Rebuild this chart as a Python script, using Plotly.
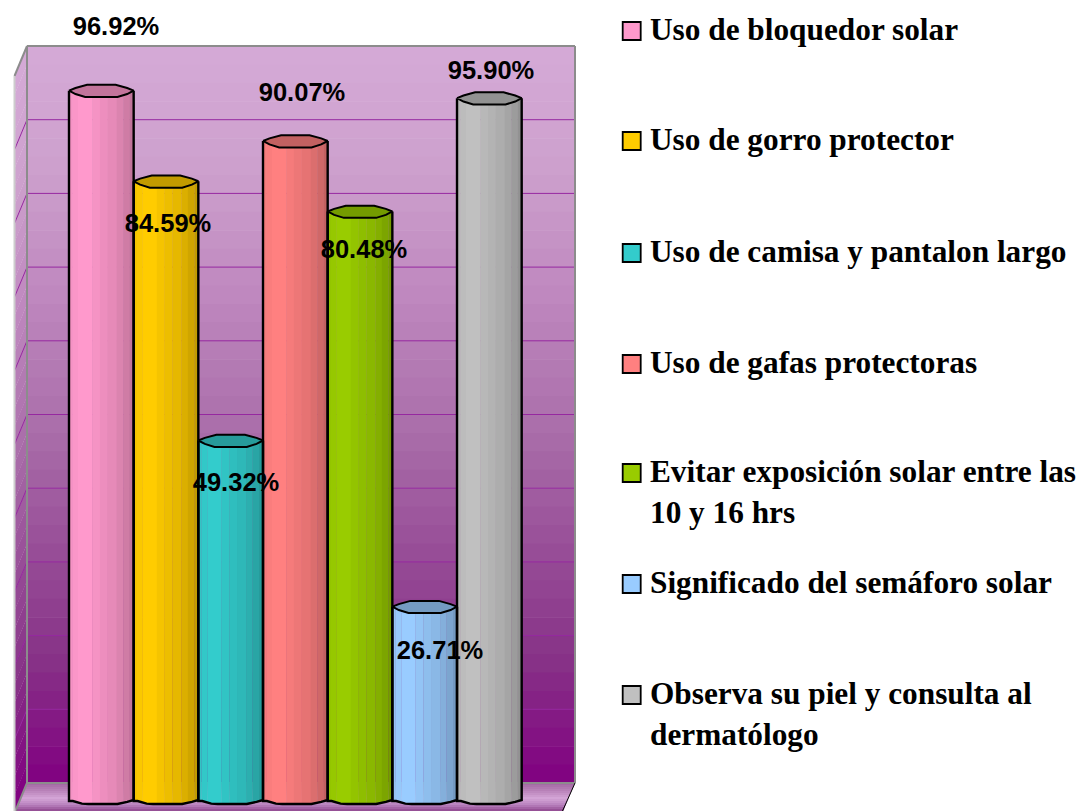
import plotly.graph_objects as go

categories = ["Uso de bloquedor solar", "Uso de gorro protector", "Uso de camisa y pantalon largo",
              "Uso de gafas protectoras", "Evitar exposición solar entre las<br>10 y 16 hrs",
              "Significado del semáforo solar", "Observa su piel y consulta al<br>dermatólogo"]
values = [96.92, 84.59, 49.32, 90.07, 80.48, 26.71, 95.90]
colors = [(255, 153, 204), (255, 204, 0), (51, 204, 204), (255, 128, 128),
          (153, 204, 0), (153, 204, 255), (192, 192, 192)]
gridline_values = [10, 20, 30, 40, 50, 60, 70, 80, 90]

W, H = 1085, 811
BAR_W = 64.67
X0 = 101.33
Y0 = 803.0
SCALE = 7.35


def xd(px):
    return (px - X0) / BAR_W


def yd(px):
    return (Y0 - px) / SCALE


def hexc(c):
    return "rgb(%d,%d,%d)" % tuple(round(v) for v in c)


def mix(a, b, t):
    return tuple(a[i] + (b[i] - a[i]) * t for i in range(3))


def shade(c, f):
    return tuple(v * f for v in c)


def poly(pts):
    return "M" + " L".join(f"{xd(x):.5f},{yd(y):.5f}" for x, y in pts) + " Z"


def ramp(stops, t):
    for a, b in zip(stops, stops[1:]):
        if a[0] <= t <= b[0]:
            return mix(a[1], b[1], (t - a[0]) / (b[0] - a[0]))
    return stops[-1][1]


WL, WR, WT, WB = 27, 575, 46, 783
DX, DY = 12.5, 30
wall_stops = [(46, (213, 170, 215)), (170, (205, 160, 205)), (300, (190, 135, 190)), (430, (170, 110, 170)),
              (560, (150, 75, 150)), (660, (135, 50, 135)), (783, (128, 0, 128))]
shapes = []

NB = 40
for k in range(NB):
    y0 = WT + (WB - WT) * k / NB
    y1 = WT + (WB - WT) * (k + 1) / NB + 0.6
    col = hexc(ramp(wall_stops, (y0 + y1) / 2))
    shapes.append(dict(type="path", path=poly([(WL, y0), (WR, y0), (WR, y1), (WL, y1)]),
                       fillcolor=col, line_width=0, layer="below"))
    shapes.append(dict(type="path", path=poly([(WL, y0), (WL, y1), (WL - DX, y1 + DY), (WL - DX, y0 + DY)]),
                       fillcolor=col, line_width=0, layer="below"))

floor_stops = [(0, (165, 105, 165)), (0.25, (185, 130, 185)), (0.55, (212, 165, 215)),
               (0.8, (185, 130, 190)), (1, (150, 80, 150))]
NF = 14
for k in range(NF):
    t = k / (NF - 1)
    c = ramp(floor_stops, t)
    y0 = WB + (H - WB) * k / NF
    y1 = WB + (H - WB) * (k + 1) / NF + 0.5
    f0 = (y0 - WB) / DY
    f1 = (y1 - WB) / DY
    shapes.append(dict(type="path",
                       path=poly([(WL - DX * f0, y0), (WR - DX * f0, y0), (WR - DX * f1, y1), (WL - DX * f1, y1)]),
                       fillcolor=hexc(c), line_width=0, layer="below"))

GRID = "rgb(150,40,160)"
for g in gridline_values:
    y = WB - g * (WB - WT) / 100
    shapes.append(dict(type="line", x0=xd(WL), x1=xd(WR), y0=yd(y), y1=yd(y),
                       line=dict(color=GRID, width=1), layer="below"))
    shapes.append(dict(type="line", x0=xd(WL), x1=xd(WL - DX), y0=yd(y), y1=yd(y + DY),
                       line=dict(color=GRID, width=1), layer="below"))

GREY = "rgb(140,140,140)"
for (a, b) in [((WL, WT), (WR, WT)), ((WL, WT), (WL, WB)), ((WR, WT), (WR, WB)), ((WL, WB), (WR, WB)),
               ((WL, WT), (WL - DX, WT + DY)), ((WL, WB), (WL - DX, WB + DY))]:
    shapes.append(dict(type="line", x0=xd(a[0]), x1=xd(b[0]), y0=yd(a[1]), y1=yd(b[1]),
                       line=dict(color=GREY, width=2), layer="below"))
shapes.append(dict(type="line", x0=xd(WL - DX), x1=xd(WL - DX), y0=yd(WT + DY), y1=yd(H),
                   line=dict(color="rgb(205,205,205)", width=2), layer="below"))
shapes.append(dict(type="line", x0=xd(WR), x1=xd(WR - DX), y0=yd(WB), y1=yd(H),
                   line=dict(color="black", width=1), layer="below"))

# cylinder strips: (start, end, shade, bottom lift in px) as fraction of the bar width
strips = [(0.0, 0.05, 0.96, 2.0), (0.05, 0.14, 0.98, 1.0), (0.14, 0.36, 1.0, 0.0), (0.36, 0.48, 0.96, 0.0),
          (0.48, 0.60, 0.93, 0.0), (0.60, 0.74, 0.90, 0.0), (0.74, 0.84, 0.86, 0.0),
          (0.84, 0.94, 0.81, 1.0), (0.94, 1.0, 0.76, 2.5)]
fig = go.Figure()
for i, (v, c) in enumerate(zip(values, colors)):
    fig.add_trace(go.Bar(
        x=[i - 0.5 + (s[0] + s[1]) / 2 for s in strips],
        y=[v - s[3] / SCALE for s in strips],
        base=[s[3] / SCALE for s in strips],
        width=[s[1] - s[0] + 0.004 for s in strips],
        marker=dict(color=[hexc(shade(c, s[2])) for s in strips], line_width=0),
        showlegend=False, hoverinfo="skip"))

cap_top = [(0.0, 0), (0.1, 2.6), (0.28, 5.8), (0.72, 5.8), (0.9, 2.6), (1.0, 0)]
cap_bot = [(0.9, -3.4), (0.75, -6.4), (0.25, -6.4), (0.1, -3.4)]
foot = [(0.0, -2), (0.06, -2), (0.2, 0.6), (0.3, 1), (0.75, 1), (0.9, -1.2), (1.0, -3)]
for i, (v, c) in enumerate(zip(values, colors)):
    left = i - 0.5
    fig.add_trace(go.Scatter(
        x=[left] + [left + f[0] for f in foot] + [left + 1],
        y=[v] + [-f[1] / SCALE for f in foot] + [v],
        mode="lines", line=dict(color="black", width=2.4), showlegend=False, hoverinfo="skip"))
    pts = cap_top + cap_bot
    fig.add_trace(go.Scatter(
        x=[left + p[0] for p in pts] + [left],
        y=[v + p[1] / SCALE for p in pts] + [v],
        mode="lines", fill="toself", fillcolor=hexc(shade(c, 0.76)),
        line=dict(color="black", width=2), showlegend=False, hoverinfo="skip"))

# data labels
label_px_x = [116, 168, 236, 302, 364, 440, 491]
label_px_y = [29, 226, 485, 95, 252, 653, 73]
fig.add_trace(go.Scatter(
    x=[xd(p) for p in label_px_x], y=[yd(p) for p in label_px_y],
    mode="text", text=[f"{v:.2f}%" for v in values], textposition="middle center",
    textfont=dict(family="Liberation Sans", size=25.5, color="black"),
    texttemplate="<b>%{text}</b>", showlegend=False, hoverinfo="skip"))

# legend
legend_px_y = [31, 141, 253, 364, 473, 584, 695]
fig.add_trace(go.Scatter(
    x=[xd(631.7)] * len(colors), y=[yd(p) for p in legend_px_y], mode="markers",
    marker=dict(symbol="square", size=18, color=[hexc(c) for c in colors], line=dict(color="black", width=1.8)),
    showlegend=False, hoverinfo="skip"))
annotations = []
for name, p in zip(categories, legend_px_y):
    annotations.append(dict(x=xd(648), y=yd(p - 21), xref="x", yref="y", text=f"<b>{name}</b>",
                            showarrow=False, xanchor="left", yanchor="top", align="left",
                            font=dict(family="Liberation Serif", size=31.3, color="black")))

fig.update_layout(
    width=W, height=H, margin=dict(l=0, r=0, t=0, b=0), barmode="overlay",
    paper_bgcolor="white", plot_bgcolor="white", showlegend=False,
    xaxis=dict(range=[xd(0), xd(W)], visible=False, fixedrange=True),
    yaxis=dict(range=[yd(H), yd(0)], visible=False, fixedrange=True),
    shapes=shapes, annotations=annotations)
fig.write_html("out.html", config={"displayModeBar": False},
               post_script="document.body.style.margin='0';document.documentElement.style.overflow='hidden';")
